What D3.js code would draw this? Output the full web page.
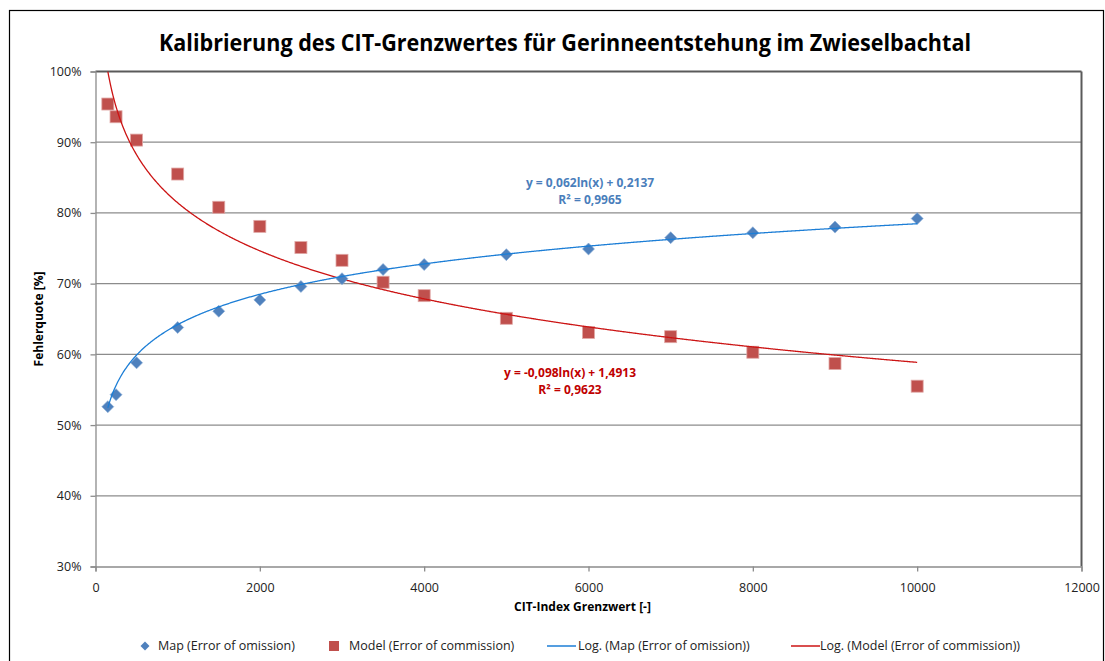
<!DOCTYPE html>
<html>
<head>
<meta charset="utf-8">
<script src="https://cdn.jsdelivr.net/npm/d3@7"></script>
<style>
  body { margin: 0; background: #fff; }
  text { font-family: "Open Sans", "DejaVu Sans", sans-serif; }
</style>
</head>
<body>
<script>
// CIT-Index thresholds
var xValues = [150, 250, 500, 1000, 1500, 2000, 2500, 3000, 3500, 4000, 5000, 6000, 7000, 8000, 9000, 10000];
// Map (Error of omission) [%]
var mapValues = [52.6, 54.3, 58.8, 63.8, 66.1, 67.7, 69.6, 70.7, 72.0, 72.7, 74.1, 74.9, 76.5, 77.2, 78.0, 79.2];
// Model (Error of commission) [%]
var modelValues = [95.4, 93.6, 90.3, 85.5, 80.8, 78.1, 75.1, 73.3, 70.2, 68.3, 65.1, 63.1, 62.5, 60.3, 58.7, 55.5];
// log trendline coefficients as printed: y = a ln(x) + b
var mapTrend = [0.062, 0.2137];
var modelTrend = [-0.098, 1.4913];
var xTicks = [0, 2000, 4000, 6000, 8000, 10000, 12000];
var yTicks = [30, 40, 50, 60, 70, 80, 90, 100];

const W = 1105, H = 661;
const margin = {top: 71.5, right: 23.5, bottom: 95, left: 95.5};
var width = W - margin.left - margin.right;
var height = 566.5 - margin.top;

var colMap = "#4f81bd", colModel = "#c0504d";
var colMapLine = "#1c7ed6", colModelLine = "#cc1414";

var svgRoot = d3.select("body").append("svg")
  .attr("width", W).attr("height", H);

// chart frame
svgRoot.append("rect")
  .attr("x", 9.5).attr("y", 10.5)
  .attr("width", 1094).attr("height", 700)
  .attr("fill", "none").attr("stroke", "#000").attr("stroke-width", 1.2);

svgRoot.append("text")
  .attr("x", 565).attr("y", 51)
  .attr("text-anchor", "middle")
  .attr("font-weight", "bold")
  .attr("font-size", 24)
  .attr("textLength", 812).attr("lengthAdjust", "spacingAndGlyphs")
  .text("Kalibrierung des CIT-Grenzwertes für Gerinneentstehung im Zwieselbachtal");

var svg = svgRoot.append("g")
  .attr("transform", "translate(" + margin.left + "," + margin.top + ")");

var x = d3.scaleLinear().domain([0, 12000]).range([0, width]);
var y = d3.scaleLinear().domain([30, 100]).range([height, 0]);

// gridlines
svg.selectAll(".grid")
  .data(yTicks.slice(1)).enter()
  .append("line")
  .attr("class", "grid")
  .attr("x1", 0).attr("x2", width)
  .attr("y1", function(d) { return y(d); })
  .attr("y2", function(d) { return y(d); })
  .attr("stroke", function(d) { return d == 100 ? "#5a5a5a" : "#8c8c8c"; })
  .attr("stroke-width", function(d) { return d == 100 ? 2 : 1.3; });

// right border of plot area
svg.append("line")
  .attr("x1", width).attr("x2", width)
  .attr("y1", 0).attr("y2", height)
  .attr("stroke", "#5a5a5a").attr("stroke-width", 2);

// axes
var yAxis = d3.axisLeft(y).tickValues(yTicks).tickSize(5).tickPadding(9)
  .tickFormat(function(d) { return d + "%"; });
var xAxis = d3.axisBottom(x).tickValues(xTicks).tickSize(5).tickPadding(9)
  .tickFormat(d3.format("d"));

var gy = svg.append("g").call(yAxis);
var gx = svg.append("g").attr("transform", "translate(0," + height + ")").call(xAxis);
[gx, gy].forEach(function(g) {
  g.selectAll(".domain").attr("stroke", "#8c8c8c").attr("stroke-width", 1.3);
  g.selectAll(".tick line").attr("stroke", "#8c8c8c").attr("stroke-width", 1.3);
  g.selectAll(".tick text")
    .attr("font-family", "Open Sans")
    .attr("font-size", 12.5)
    .attr("fill", "#222");
});
gx.selectAll(".tick text").attr("dy", "0.95em");

// axis titles
svg.append("text")
  .attr("x", x(6000) - 6).attr("y", height + 44)
  .attr("text-anchor", "middle")
  .attr("font-weight", "bold").attr("font-size", 12)
  .text("CIT-Index Grenzwert [-]");
svg.append("text")
  .attr("transform", "translate(" + (-53) + "," + (height / 2) + ")rotate(-90)")
  .attr("text-anchor", "middle")
  .attr("font-weight", "bold").attr("font-size", 12)
  .text("Fehlerquote [%]");

// trendlines
var xs = d3.range(xValues[0], xValues[xValues.length - 1] + 1, 10);
function trendPts(c) {
  return xs.map(function(v) { return [v, 100 * (c[0] * Math.log(v) + c[1])]; })
    .filter(function(p) { return p[1] <= 100.5; });
}
var line = d3.line()
  .x(function(d) { return x(d[0]); })
  .y(function(d) { return y(d[1]); });

svg.append("defs").append("clipPath").attr("id", "plotClip")
  .append("rect").attr("x", 0).attr("y", 0).attr("width", width).attr("height", height);

var plot = svg.append("g").attr("clip-path", "url(#plotClip)");

var dMap = xValues.map(function(v, i) { return [v, mapValues[i]]; });
var dModel = xValues.map(function(v, i) { return [v, modelValues[i]]; });

// markers
plot.selectAll(".sq")
  .data(dModel).enter()
  .append("rect")
  .attr("class", "sq")
  .attr("x", function(d) { return x(d[0]) - 6; })
  .attr("y", function(d) { return y(d[1]) - 6; })
  .attr("width", 12).attr("height", 12)
  .attr("fill", colModel)
  .attr("stroke", "#e0a8a6").attr("stroke-width", 0.8);

plot.append("path")
  .datum(trendPts(modelTrend))
  .attr("d", line)
  .attr("fill", "none").attr("stroke", colModelLine).attr("stroke-width", 1.3);

plot.selectAll(".dm")
  .data(dMap).enter()
  .append("path")
  .attr("class", "dm")
  .attr("d", d3.symbol().type(d3.symbolSquare).size(72))
  .attr("transform", function(d) { return "translate(" + x(d[0]) + "," + y(d[1]) + ")rotate(45)"; })
  .attr("fill", colMap)
  .attr("stroke", "#8fb0d8").attr("stroke-width", 0.6);

plot.append("path")
  .datum(trendPts(mapTrend))
  .attr("d", line)
  .attr("fill", "none").attr("stroke", colMapLine).attr("stroke-width", 1.3);

// trendline labels (German decimal comma, plain hyphen for minus)
function fmt(v, n) { return v.toFixed(n).replace(".", ","); }
var labels = [
  {c: mapTrend, r2: 0.9965, cx: 590, cy: 187, col: "#4a7ebb"},
  {c: modelTrend, r2: 0.9623, cx: 570, cy: 377, col: "#c00000"}
];
labels.forEach(function(l) {
  var t = svgRoot.append("text")
    .attr("text-anchor", "middle")
    .attr("font-weight", "bold").attr("font-size", 12)
    .attr("fill", l.col);
  t.append("tspan").attr("x", l.cx).attr("y", l.cy)
    .text("y = " + fmt(l.c[0], 3) + "ln(x) + " + fmt(l.c[1], 4));
  t.append("tspan").attr("x", l.cx).attr("y", l.cy + 17)
    .text("R² = " + fmt(l.r2, 4));
});

// legend
var leg = svgRoot.append("g").attr("transform", "translate(0,646)");
var legItems = [
  {type: "diamond", x: 145, tx: 158, label: "Map (Error of omission)"},
  {type: "square", x: 334, tx: 349, label: "Model (Error of commission)"},
  {type: "line", x: 547, tx: 578, col: colMapLine, label: "Log. (Map (Error of omission))"},
  {type: "line", x: 791, tx: 820, col: colModelLine, label: "Log. (Model (Error of commission))"}
];
legItems.forEach(function(it) {
  if (it.type == "diamond") {
    leg.append("path")
      .attr("d", d3.symbol().type(d3.symbolSquare).size(40))
      .attr("transform", "translate(" + it.x + ",0)rotate(45)")
      .attr("fill", colMap);
  } else if (it.type == "square") {
    leg.append("rect").attr("x", it.x - 5).attr("y", -5)
      .attr("width", 10).attr("height", 10).attr("fill", colModel);
  } else {
    leg.append("line").attr("x1", it.x).attr("x2", it.x + 29)
      .attr("y1", 0).attr("y2", 0)
      .attr("stroke", it.col).attr("stroke-width", 1.5);
  }
  leg.append("text").attr("x", it.tx).attr("y", 0).attr("dy", "0.35em")
    .attr("font-size", 12.5).attr("fill", "#222")
    .text(it.label);
});
</script>
</body>
</html>
